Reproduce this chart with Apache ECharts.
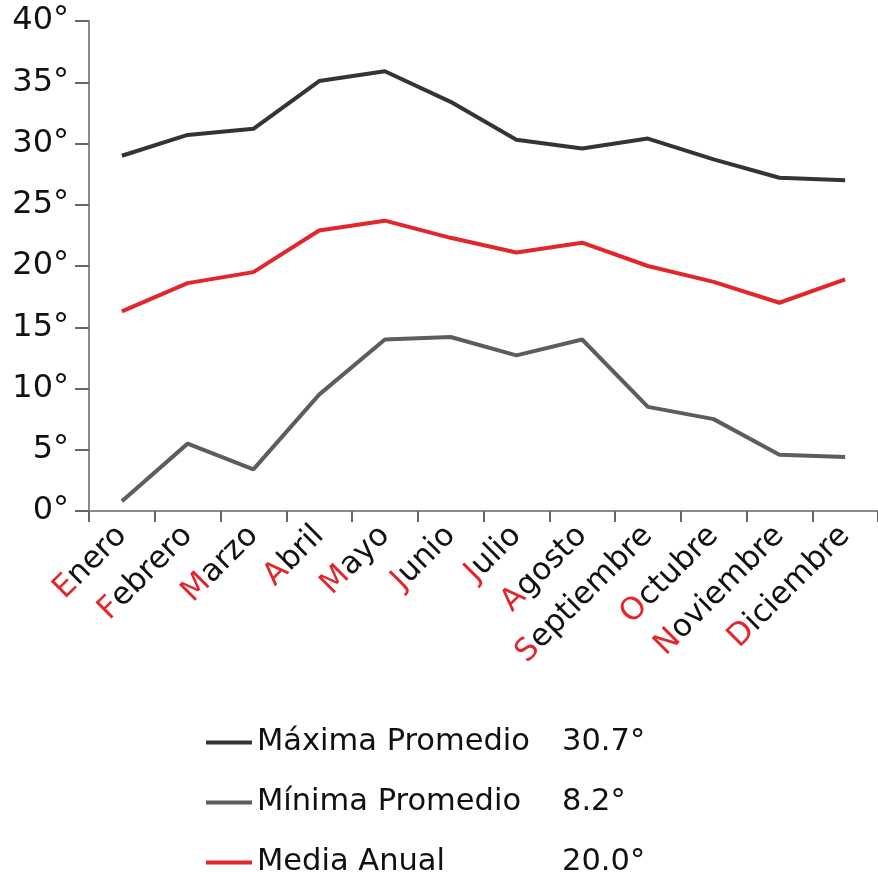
<!DOCTYPE html>
<html>
<head>
<meta charset="utf-8">
<script src="https://cdn.jsdelivr.net/npm/echarts@6/dist/echarts.min.js"></script>
<style>
  html, body { margin: 0; padding: 0; background: #fff; }
  #chart { width: 878px; height: 872px; }
</style>
</head>
<body>
<div id="chart"></div>
<script>
// Monthly temperatures (°C)
const months = ['Enero', 'Febrero', 'Marzo', 'Abril', 'Mayo', 'Junio',
                'Julio', 'Agosto', 'Septiembre', 'Octubre', 'Noviembre', 'Diciembre'];
const maxima = [29.0, 30.7, 31.2, 35.1, 35.9, 33.4, 30.3, 29.6, 30.4, 28.7, 27.2, 27.0];
const minima = [0.8, 5.5, 3.4, 9.5, 14.0, 14.2, 12.7, 14.0, 8.5, 7.5, 4.6, 4.4];
const media  = [16.3, 18.6, 19.5, 22.9, 23.7, 22.3, 21.1, 21.9, 20.0, 18.7, 17.0, 18.9];

const seriesNames = ['Máxima Promedio', 'Mínima Promedio', 'Media Anual'];
const summaryLabels = ['30.7°', '8.2°', '20.0°'];
const yTicks = [0, 5, 10, 15, 20, 25, 30, 35, 40];

const FONT = 'DejaVu Sans';
const AXIS_GREY = '#8a8a8a';
const RED = '#e1262c';
const TXT = '#111';

const chart = echarts.init(document.getElementById('chart'), null, { renderer: 'canvas' });

chart.setOption({
  animation: false,
  backgroundColor: '#ffffff',
  grid: { left: 89, right: 0, top: 21, bottom: 361, containLabel: false },
  xAxis: {
    type: 'category',
    data: months,
    boundaryGap: true,
    axisLine: { lineStyle: { color: AXIS_GREY, width: 2 } },
    axisTick: { show: true, length: 11, lineStyle: { color: '#666', width: 2 } },
    axisLabel: {
      rotate: 45,
      margin: 20,
      interval: 0,
      fontFamily: FONT,
      fontSize: 31,
      color: TXT,
      formatter: (v) => `{r|${v[0]}}{b|${v.slice(1)}}`,
      rich: {
        r: { color: RED, fontFamily: FONT, fontSize: 31 },
        b: { color: TXT, fontFamily: FONT, fontSize: 31 }
      }
    }
  },
  yAxis: {
    type: 'value',
    min: yTicks[0],
    max: yTicks[yTicks.length - 1],
    interval: 5,
    axisLine: { show: true, lineStyle: { color: AXIS_GREY, width: 2 } },
    axisTick: { show: true, length: 14, lineStyle: { color: '#666', width: 2 } },
    splitLine: { show: false },
    axisLabel: {
      margin: 20,
      fontFamily: FONT,
      fontSize: 32,
      color: TXT,
      formatter: (v) => v + '°'
    }
  },
  legend: {
    orient: 'vertical',
    left: 206,
    top: 727,
    height: 200,
    padding: 0,
    itemWidth: 46,
    itemHeight: 4,
    itemGap: 29,
    icon: 'rect',
    data: seriesNames,
    formatter: (name) => {
      const i = seriesNames.indexOf(name);
      return `{n|${name}}{v|${summaryLabels[i]}}`;
    },
    textStyle: {
      fontFamily: FONT,
      fontSize: 30.5,
      color: TXT,
      rich: {
        n: { width: 305, fontFamily: FONT, fontSize: 30.5, color: TXT },
        v: { fontFamily: FONT, fontSize: 30.5, color: TXT }
      }
    }
  },
  series: [
    {
      name: seriesNames[0], type: 'line', data: maxima, symbol: 'none',
      color: '#363432', lineStyle: { width: 4, color: '#363432' }
    },
    {
      name: seriesNames[1], type: 'line', data: minima, symbol: 'none',
      color: '#5e5d5d', lineStyle: { width: 4, color: '#5e5d5d' }
    },
    {
      name: seriesNames[2], type: 'line', data: media, symbol: 'none',
      color: RED, lineStyle: { width: 4, color: RED }
    }
  ]
});
</script>
</body>
</html>
